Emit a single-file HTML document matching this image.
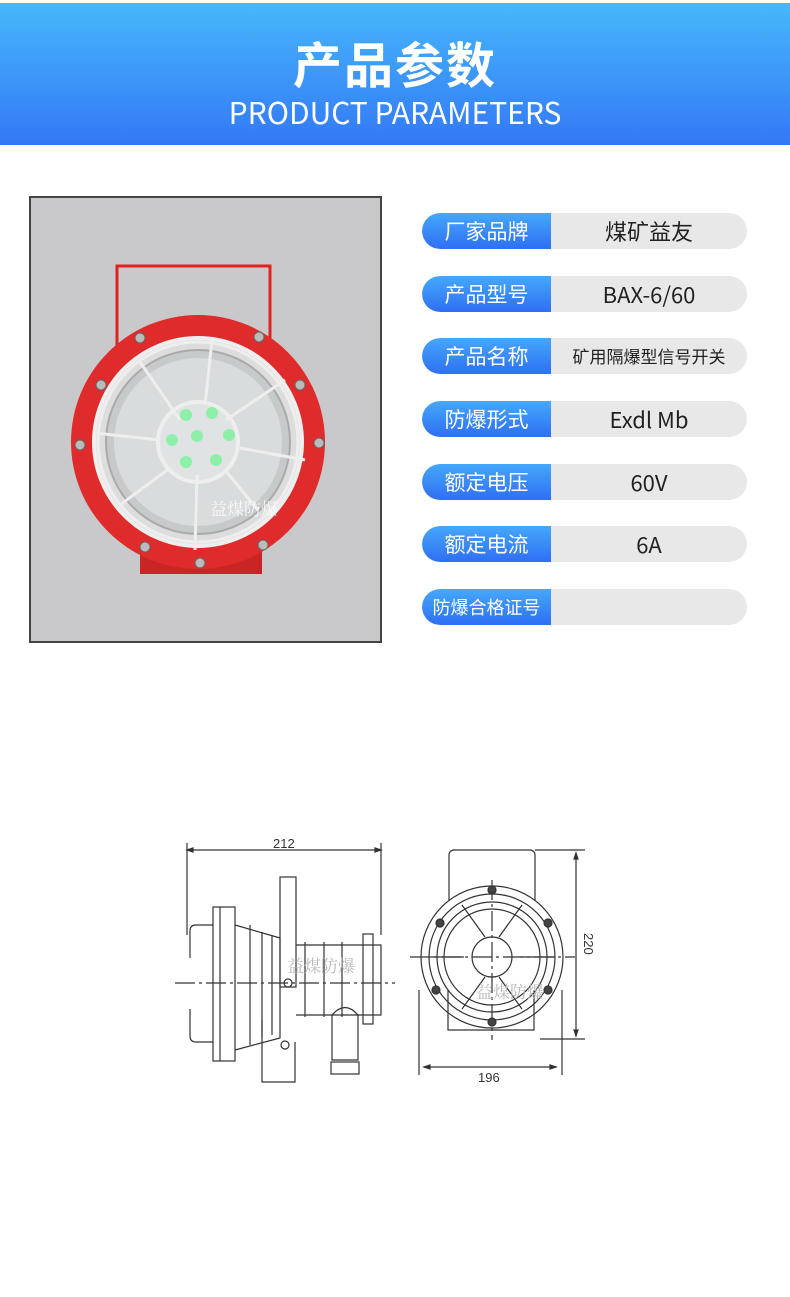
<!DOCTYPE html>
<html><head><meta charset="utf-8"><style>
body{margin:0;width:790px;height:1297px;background:#fff;position:relative;overflow:hidden;font-family:"Liberation Sans","Noto Sans CJK SC",sans-serif}
.hdr{position:absolute;left:0;top:3px;width:790px;height:142px;background:linear-gradient(#46b8fb,#3378f6)}
.t1{position:absolute;top:30px;width:790px;text-align:center;color:#fff;font-size:49px;font-weight:bold;letter-spacing:2px;font-family:"Noto Sans CJK SC",sans-serif;line-height:60px}
.t2{position:absolute;top:90px;width:790px;text-align:center;color:#fff;font-size:30px;line-height:36px;font-family:"Noto Sans CJK SC",sans-serif}
.row{position:absolute;left:422px;width:325px;height:36px;border-radius:18px;background:#e8e8e8;overflow:hidden}
.row .k{position:absolute;left:0;top:0;width:129px;height:36px;background:linear-gradient(#45a8fb,#2f6ff4);color:#fff;font-size:21px;line-height:36px;text-align:center;font-family:"Noto Sans CJK SC",sans-serif;border-radius:18px 0 0 18px}
.row .v{position:absolute;left:129px;right:0;top:0;height:36px;color:#222;font-size:22px;line-height:36px;text-align:center;font-family:"Noto Sans CJK SC",sans-serif}
</style></head><body>
<div class="hdr"><div class="t1">产品参数</div><div class="t2">PRODUCT PARAMETERS</div></div>

<div class="row" style="top:213px"><div class="k">厂家品牌</div><div class="v">煤矿益友</div></div>
<div class="row" style="top:276px"><div class="k">产品型号</div><div class="v">BAX-6/60</div></div>
<div class="row" style="top:338px"><div class="k">产品名称</div><div class="v" style="font-size:17px">矿用隔爆型信号开关</div></div>
<div class="row" style="top:401px"><div class="k">防爆形式</div><div class="v">Exdl Mb</div></div>
<div class="row" style="top:464px"><div class="k">额定电压</div><div class="v">60V</div></div>
<div class="row" style="top:526px"><div class="k">额定电流</div><div class="v">6A</div></div>
<div class="row" style="top:589px"><div class="k" style="font-size:18px">防爆合格证号</div><div class="v"></div></div>

<svg style="position:absolute;left:0;top:0" width="790" height="1297">
<rect x="30" y="197" width="351" height="445" fill="#c9c9cb" stroke="#444" stroke-width="2"/>
<rect x="117" y="266" width="153" height="80" fill="none" stroke="#d22" stroke-width="3"/>
<rect x="140" y="540" width="122" height="34" fill="#c92525"/>
<circle cx="198" cy="442" r="127" fill="#df2b2b"/>
<circle cx="198" cy="442" r="104" fill="#ddd" stroke="#eee" stroke-width="4"/>
<circle cx="198" cy="442" r="92" fill="#c6cacb" stroke="#aaa" stroke-width="2"/>
<circle cx="198" cy="442" r="84" fill="#d9dcdc"/>
<circle cx="198" cy="442" r="40" fill="#dfe3e3" stroke="#eee" stroke-width="4"/>
<g fill="#8ef0a8"><circle cx="186" cy="415" r="6"/><circle cx="212" cy="413" r="6"/><circle cx="172" cy="440" r="6"/><circle cx="197" cy="436" r="6"/><circle cx="229" cy="435" r="6"/><circle cx="186" cy="462" r="6"/><circle cx="216" cy="460" r="6"/></g>
<g stroke="#eee" stroke-width="3" fill="none">
<line x1="212" y1="340" x2="205" y2="405"/><line x1="140" y1="362" x2="180" y2="420"/><line x1="285" y1="380" x2="226" y2="420"/>
<line x1="95" y1="433" x2="160" y2="440"/><line x1="240" y1="448" x2="305" y2="460"/><line x1="120" y1="505" x2="170" y2="468"/>
<line x1="197" y1="475" x2="195" y2="550"/><line x1="225" y1="470" x2="258" y2="510"/>
<circle cx="198" cy="442" r="100"/></g>
<g fill="#bbb" stroke="#666"><circle cx="140" cy="338" r="5"/><circle cx="259" cy="337" r="5"/><circle cx="101" cy="385" r="5"/><circle cx="300" cy="385" r="5"/><circle cx="80" cy="445" r="5"/><circle cx="319" cy="443" r="5"/><circle cx="145" cy="547" r="5"/><circle cx="263" cy="545" r="5"/><circle cx="200" cy="563" r="5"/></g>
<text x="210" y="515" font-size="17" fill="#fff" opacity=".8" font-family="Noto Serif CJK SC,serif">益煤防爆</text>

<g stroke="#333" stroke-width="1.2" fill="none" font-family="Liberation Sans">
<line x1="187" y1="850" x2="381" y2="850"/><line x1="187" y1="843" x2="187" y2="935"/><line x1="381" y1="843" x2="381" y2="935"/>
<path d="M187 850 l6 -2 v4z M381 850 l-6 -2 v4z" fill="#333"/>
<rect x="213" y="907" width="22" height="154"/><line x1="220" y1="907" x2="220" y2="1061"/>
<path d="M213 925 h-17 q-6 0 -6 6 v27 M213 1042 h-17 q-6 0 -6 -6 v-27"/>
<path d="M235 925 L280 938 L280 1038 L235 1050"/>
<path d="M250 925 v120 M262 932 v105 M272 935 v100"/>
<rect x="280" y="877" width="16" height="110"/>
<path d="M296 945 h85 v70 h-85"/><path d="M305 942 v75 M324 942 v75 M342 942 v75"/>
<rect x="363" y="934" width="10" height="90"/>
<path d="M262 1020 v62 h33 v-40"/>
<path d="M332 1015 v45 h26 v-45 q-13 -15 -26 0z"/><rect x="331" y="1062" width="28" height="12"/>
<circle cx="288" cy="983" r="4"/><circle cx="285" cy="1045" r="4"/>
<line x1="175" y1="983" x2="395" y2="983" stroke-dasharray="20 4 3 4"/>
<text x="273" y="848" font-size="13" fill="#333" stroke="none">212</text>

<rect x="449" y="850" width="86" height="60" rx="5"/>
<circle cx="492" cy="957" r="71" fill="#fff"/><circle cx="492" cy="957" r="63"/><circle cx="492" cy="957" r="55"/><circle cx="492" cy="957" r="48"/><circle cx="492" cy="957" r="20"/>
<path d="M462 905 L485 937 M522 905 L499 937 M462 1009 L485 977 M522 1009 L499 977 M429 957 h35 M520 957 h35"/>
<line x1="410" y1="957" x2="575" y2="957" stroke-dasharray="20 4 3 4"/><line x1="492" y1="880" x2="492" y2="1040" stroke-dasharray="20 4 3 4"/>
<path d="M448 990 v40 h86 v-40"/>
<g fill="#444"><circle cx="492" cy="890" r="4"/><circle cx="440" cy="923" r="4"/><circle cx="548" cy="923" r="4"/><circle cx="436" cy="990" r="4"/><circle cx="548" cy="990" r="4"/><circle cx="492" cy="1022" r="4"/></g>
<line x1="576" y1="853" x2="576" y2="1036"/><line x1="535" y1="850" x2="585" y2="850"/><line x1="540" y1="1039" x2="585" y2="1039"/>
<path d="M576 853 l-2 6 h4z M576 1036 l-2 -6 h4z" fill="#333"/>
<line x1="424" y1="1067" x2="556" y2="1067"/><line x1="419" y1="990" x2="419" y2="1075"/><line x1="562" y1="990" x2="562" y2="1075"/>
<path d="M424 1067 l6 -2 v4z M556 1067 l-6 -2 v4z" fill="#333"/>
<text x="478" y="1082" font-size="13" fill="#333" stroke="none">196</text>
<text x="0" y="0" font-size="13" fill="#333" stroke="none" transform="translate(584,933) rotate(90)">220</text>
</g>
<text x="287" y="972" font-size="17" fill="#bbb" font-family="Noto Serif CJK SC,serif">益煤防爆</text>
<text x="476" y="998" font-size="17" fill="#bbb" font-family="Noto Serif CJK SC,serif">益煤防爆</text>
</svg>
</body></html>
